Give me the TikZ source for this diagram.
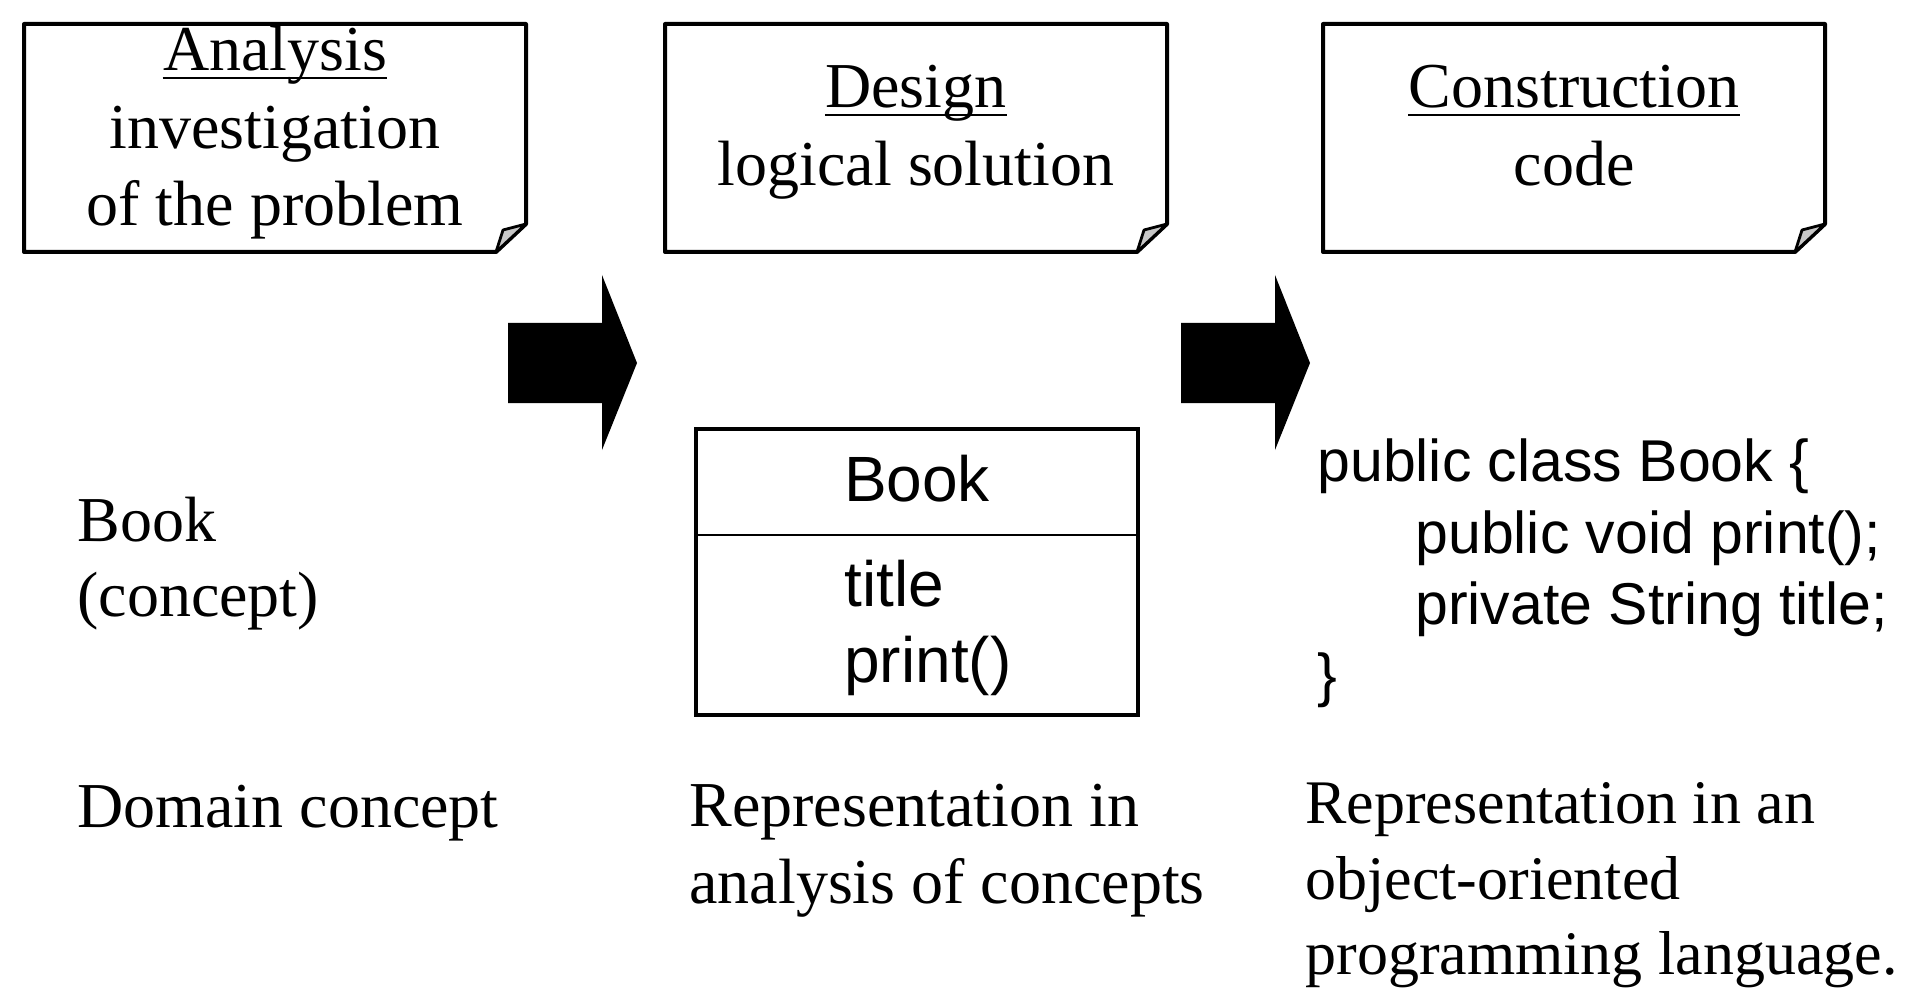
\documentclass[tikz,border=0pt]{standalone}
\usepackage{fontspec}
\setmainfont{Liberation Serif}
\setsansfont{Liberation Sans}
\usetikzlibrary{calc}

\begin{document}
\begin{tikzpicture}[x=0.5pt,y=-0.5pt,
  serif/.style={font=\fontsize{32}{39}\selectfont,inner sep=0pt},
  serifs/.style={font=\fontsize{31}{38}\selectfont,inner sep=0pt,anchor=base west},
  sans/.style={font=\sffamily\fontsize{32}{38}\selectfont,inner sep=0pt},
  code/.style={font=\sffamily\fontsize{29.5}{36}\selectfont,inner sep=0pt,anchor=base west},
  notebox/.style={line width=2pt,line join=round},
  flap/.style={line width=1.4pt,line join=round,fill=black!22},
  uline/.style={line width=1.2pt}]
\useasboundingbox (0,0) rectangle (1918,1000);
\foreach \xl in {24,665,1323}{
  \draw[notebox](\xl,24)--++(502,0)--++(0,200)--++(-30,28)--++(-472,0)--cycle;
  \draw[flap](\xl+472,252)--++(7,-22)--++(23,-6)--cycle;
}
\foreach \dx in {0,673}
  \fill(508+\dx,323)--++(94,0)--++(0,-48)--++(35,88)--++(-35,87)--++(0,-47)--++(-94,0)--cycle;
\node[serif,anchor=base](ana) at (275,71) {Analysis};
\node[serif,anchor=base](ana1) at (275,149) {investigation};
\node[serif,anchor=base](ana2) at (275,226) {of the problem};
\node[serif,anchor=base](des) at (916,108) {Design};
\node[serif,anchor=base](des1) at (916,186) {logical solution};
\node[serif,anchor=base](con) at (1574,108) {Construction};
\node[serif,anchor=base](con1) at (1574,186) {code};
\draw[uline]([yshift=-3.4pt]ana.base west)--([yshift=-3.4pt]ana.base east);
\draw[uline]([yshift=-3.6pt]des.base west)--([yshift=-3.6pt]des.base east);
\draw[uline]([yshift=-3.6pt]con.base west)--([yshift=-3.6pt]con.base east);
\node[serif,anchor=base west](book) at (77,541) {Book};
\node[serif,anchor=base west](concept) at (77,616) {(concept)};
\node[serif,anchor=base west](domain) at (77,827) {Domain concept};
\draw[line width=2.2pt](696,429) rectangle (1138,715);
\draw[line width=1pt](696,535)--(1138,535);
\node[sans,anchor=base](cls) at (917,501) {Book};
\node[sans,anchor=base west](attr) at (844,606) {title};
\node[sans,anchor=base west](meth) at (844,682) {print()};
\node[code](c1) at (1317,481) {public class Book \{};
\node[code](c2) at (1415,553) {public void print();};
\node[code](c3) at (1415,624) {private String title;};
\node[code](c4) at (1317,695) {\}};
\node[serif,anchor=base west](rep1) at (689,826) {Representation in};
\node[serif,anchor=base west](rep2) at (689,903) {analysis of concepts};
\node[serifs](oo1) at (1305,823) {Representation in an};
\node[serifs](oo2) at (1305,899) {object-oriented};
\node[serifs](oo3) at (1305,974) {programming language.};
\end{tikzpicture}
\end{document}
